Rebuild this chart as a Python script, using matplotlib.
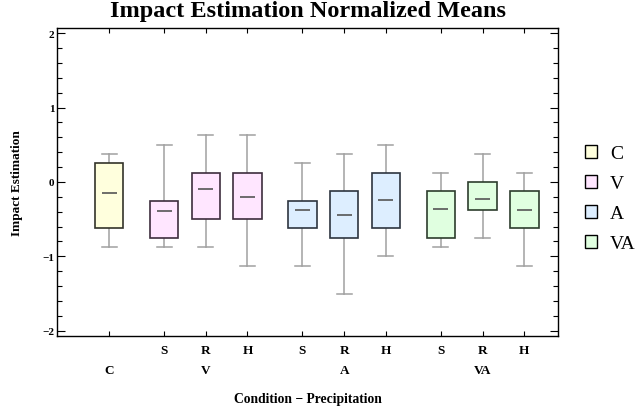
import numpy as np
import matplotlib
matplotlib.use("Agg")
import matplotlib.pyplot as plt
from matplotlib.patches import Patch
from matplotlib.ticker import MultipleLocator

# DATA
groups = ["C", "V", "A", "VA"]
group_sizes = [1, 3, 3, 3]
precip = ["", "S", "R", "H", "S", "R", "H", "S", "R", "H"]
whislo = [-0.875, -0.875, -0.875, -1.125, -1.125, -1.5, -1.0, -0.875, -0.75, -1.125]
q1 = [-0.625, -0.75, -0.5, -0.5, -0.625, -0.75, -0.625, -0.75, -0.375, -0.625]
med = [-0.145, -0.387, -0.093, -0.207, -0.378, -0.45, -0.239, -0.364, -0.225, -0.378]
q3 = [0.25, -0.25, 0.125, 0.125, -0.25, -0.125, 0.125, -0.125, 0.0, -0.125]
whishi = [0.375, 0.5, 0.625, 0.625, 0.25, 0.375, 0.5, 0.125, 0.375, 0.125]

fills = {"C": "#ffffdd", "V": "#ffe6ff", "A": "#ddeeff", "VA": "#e0ffe0"}
edges = {"C": "#33332a", "V": "#3d2d3d", "A": "#2d3540", "VA": "#2d3d2d"}

plt.rcParams['font.family'] = ['Liberation Serif', 'DejaVu Serif']

# positions: unit spacing inside a group, wider gap between groups
gap = 1.32
positions = []
box_group = []
x = 0.0
for gi, (g, n) in enumerate(zip(groups, group_sizes)):
    if gi > 0:
        x += gap
    for k in range(n):
        if k > 0:
            x += 1.0
        positions.append(x)
        box_group.append(g)
positions = np.array(positions)

fig = plt.figure(figsize=(6.37, 4.14), dpi=100)
ax = fig.add_axes([57.3 / 637, 1 - 337.3 / 414, 500.4 / 637, 308 / 414])

stats = [dict(whislo=a, q1=b, med=c, q3=d, whishi=e)
         for a, b, c, d, e in zip(whislo, q1, med, q3, whishi)]
bp = ax.bxp(stats, positions=positions, widths=0.68, showfliers=False,
            patch_artist=True, capwidths=0.36,
            whiskerprops=dict(color="#a0a0a0", lw=1.1),
            capprops=dict(color="#a0a0a0", lw=1.1),
            medianprops=dict(visible=False))
for box, g in zip(bp["boxes"], box_group):
    box.set_facecolor(fills[g])
    box.set_edgecolor(edges[g])
    box.set_linewidth(1.2)
    box.set_zorder(3)
ax.hlines(med, positions - 0.18, positions + 0.18, color="#555555", lw=1.2, zorder=4)

ax.set_xlim(-1.24, positions[-1] + 0.8)
ax.set_ylim(-2.075, 2.065)
ax.yaxis.set_minor_locator(MultipleLocator(0.2))
ax.set_yticks([-2, -1, 0, 1, 2])
ax.set_yticklabels(["\u22122", "\u22121", "0", "1", "2"], fontweight="bold", fontsize=8)
ax.set_xticks(positions)
ax.set_xticklabels(precip, fontweight="bold", fontsize=9.5)
ax.tick_params(axis="x", which="both", direction="in", length=3.3, width=0.8,
               top=True, pad=5.5)
ax.tick_params(axis="y", which="major", direction="in", length=6, width=0.8,
               right=True, pad=2)
ax.tick_params(axis="y", which="minor", direction="in", length=3.3, width=0.8,
               right=True)
for s in ax.spines.values():
    s.set_linewidth(1.0)

# group labels on second row
start = 0
for g, n in zip(groups, group_sizes):
    center = positions[start + n // 2] if n > 1 else positions[start]
    ax.annotate(g, xy=(center, 0), xycoords=("data", "axes fraction"),
                xytext=(0, -24.6), textcoords="offset points",
                ha="center", va="center", fontweight="bold", fontsize=9.5)
    start += n

ax.set_xlabel("Condition \u2212 Precipitation", fontweight="bold", fontsize=9.8)
ax.xaxis.set_label_coords(0.5, -(400 - 337.3) / 308)
ax.xaxis.label.set_va("center")
ax.set_ylabel("Impact Estimation", fontweight="bold", fontsize=9.5)
ax.yaxis.set_label_coords((17 - 57.3) / 500.4, 0.5)
ax.yaxis.label.set_va("center")

fig.text(0.483, 1 - 17 / 414, "Impact Estimation Normalized Means",
         ha="center", va="baseline", fontweight="bold", fontsize=17.5)

handles = [Patch(facecolor=fills[g], edgecolor="black", lw=1.0) for g in groups]
fig.legend(handles, groups, loc="upper left", bbox_to_anchor=(585 / 637, 1 - 146 / 414),
           frameon=False, fontsize=14, borderpad=0, borderaxespad=0,
           handlelength=0.62, handleheight=0.62, handletextpad=0.67,
           labelspacing=0.66)

fig.savefig("out.png", dpi=100)
